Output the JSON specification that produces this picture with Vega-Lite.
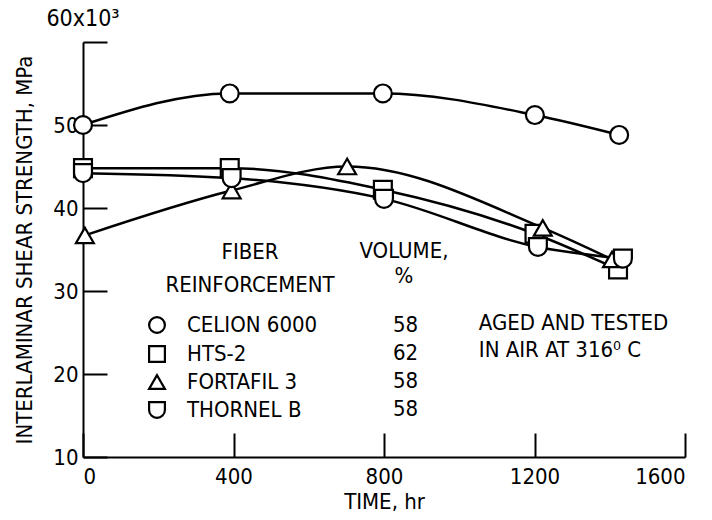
{
  "$schema": "https://vega.github.io/schema/vega-lite/v6.json",
  "width": 602,
  "height": 415,
  "autosize": "none",
  "padding": {"left": 83, "top": 42, "right": 27, "bottom": 63},
  "background": "white",
  "config": {
    "font": "'Liberation Sans Narrow', 'DejaVu Sans Condensed', Roboto, sans-serif",
    "view": {"stroke": null},
    "axis": {
      "grid": false,
      "domainColor": "black",
      "domainWidth": 2,
      "tickColor": "black",
      "tickWidth": 2,
      "tickSize": -24,
      "labelColor": "black",
      "labelFontSize": 22,
      "titleColor": "black",
      "titleFontSize": 22,
      "titleFontWeight": "normal"
    },
    "text": {"color": "black", "fontSize": 22}
  },
  "data": {
    "values": [
      {"fiber": "CELION 6000", "time": 0, "strength": 50.0},
      {"fiber": "CELION 6000", "time": 390, "strength": 53.8},
      {"fiber": "CELION 6000", "time": 797, "strength": 53.8},
      {"fiber": "CELION 6000", "time": 1201, "strength": 51.2},
      {"fiber": "CELION 6000", "time": 1425, "strength": 48.8},
      {"fiber": "HTS-2", "time": 0, "strength": 44.8},
      {"fiber": "HTS-2", "time": 390, "strength": 44.8},
      {"fiber": "HTS-2", "time": 797, "strength": 42.2},
      {"fiber": "HTS-2", "time": 1200, "strength": 36.9},
      {"fiber": "HTS-2", "time": 1422, "strength": 32.6},
      {"fiber": "FORTAFIL 3", "time": 5, "strength": 36.7},
      {"fiber": "FORTAFIL 3", "time": 395, "strength": 42.1},
      {"fiber": "FORTAFIL 3", "time": 702, "strength": 45.0},
      {"fiber": "FORTAFIL 3", "time": 1222, "strength": 37.6},
      {"fiber": "FORTAFIL 3", "time": 1406, "strength": 33.8},
      {"fiber": "THORNEL B", "time": 0, "strength": 44.2},
      {"fiber": "THORNEL B", "time": 395, "strength": 43.6},
      {"fiber": "THORNEL B", "time": 800, "strength": 41.1},
      {"fiber": "THORNEL B", "time": 1209, "strength": 35.3},
      {"fiber": "THORNEL B", "time": 1435, "strength": 33.9}
    ]
  },
  "layer": [
    {
      "mark": {"type": "line", "interpolate": "monotone", "color": "black", "strokeWidth": 2.5},
      "encoding": {
        "x": {"field": "time", "type": "quantitative", "scale": {"domain": [0, 1600], "nice": false},
              "axis": {"values": [0, 400, 800, 1200, 1600], "format": "d", "title": "TIME, hr", "labelPadding": 33, "titlePadding": 4}},
        "y": {"field": "strength", "type": "quantitative", "scale": {"domain": [10, 60], "nice": false, "zero": false},
              "axis": {"values": [10, 20, 30, 40, 50, 60], "title": "INTERLAMINAR SHEAR STRENGTH, MPa",
                       "labelExpr": "datum.value == 60 ? '' : datum.label", "labelPadding": 29, "titlePadding": 16}},
        "detail": {"field": "fiber"}
      }
    },
    {
      "mark": {"type": "point", "size": 320, "stroke": "black", "strokeWidth": 2.2, "opacity": 1},
      "encoding": {
        "x": {"field": "time", "type": "quantitative"},
        "y": {"field": "strength", "type": "quantitative"},
        "shape": {
          "field": "fiber",
          "type": "nominal",
          "scale": {
            "domain": ["CELION 6000", "HTS-2", "FORTAFIL 3", "THORNEL B"],
            "range": ["circle", "square", "triangle-up", "M-1,-1L1,-1L1,0A1,1,0,0,1,-1,0Z"]
          },
          "legend": {
            "orient": "none", "legendX": 63, "legendY": 272, "title": null,
            "labelFontSize": 22, "labelColor": "black", "labelOffset": 19, "rowPadding": 3,
            "symbolStrokeColor": "black", "symbolFillColor": "white", "symbolStrokeWidth": 2.2, "symbolSize": 250
          }
        },
        "fill": {
          "field": "fiber",
          "type": "nominal",
          "sort": ["CELION 6000", "HTS-2", "FORTAFIL 3", "THORNEL B"],
          "scale": {"range": ["white", "white", "white", "white"]},
          "legend": {
            "orient": "none", "legendX": 288, "legendY": 272, "title": null,
            "labelExpr": "datum.label == 'HTS-2' ? '62' : '58'",
            "labelFontSize": 22, "labelColor": "black", "labelOffset": 0, "rowPadding": 6,
            "symbolOpacity": 0, "symbolStrokeWidth": 0, "symbolSize": 1
          }
        }
      }
    },
    {
      "data": {"values": [{}]},
      "mark": {"type": "text", "text": "60x10³", "align": "center", "baseline": "middle", "dy": -23, "fontSize": 23},
      "encoding": {"x": {"datum": 0, "type": "quantitative"}, "y": {"datum": 60, "type": "quantitative"}}
    },
    {
      "data": {"values": [{}]},
      "mark": {"type": "text", "text": ["FIBER", "REINFORCEMENT"], "align": "center", "baseline": "middle", "lineHeight": 33},
      "encoding": {"x": {"datum": 444, "type": "quantitative"}, "y": {"datum": 34.7, "type": "quantitative"}}
    },
    {
      "data": {"values": [{}]},
      "mark": {"type": "text", "text": ["VOLUME,", "%"], "align": "center", "baseline": "middle", "lineHeight": 25},
      "encoding": {"x": {"datum": 853, "type": "quantitative"}, "y": {"datum": 34.8, "type": "quantitative"}}
    },
    {
      "data": {"values": [{}]},
      "mark": {"type": "text", "text": ["AGED AND TESTED", "IN AIR AT 316⁰ C"], "align": "left", "baseline": "middle", "lineHeight": 27},
      "encoding": {"x": {"datum": 1052, "type": "quantitative"}, "y": {"datum": 26.1, "type": "quantitative"}}
    }
  ]
}
